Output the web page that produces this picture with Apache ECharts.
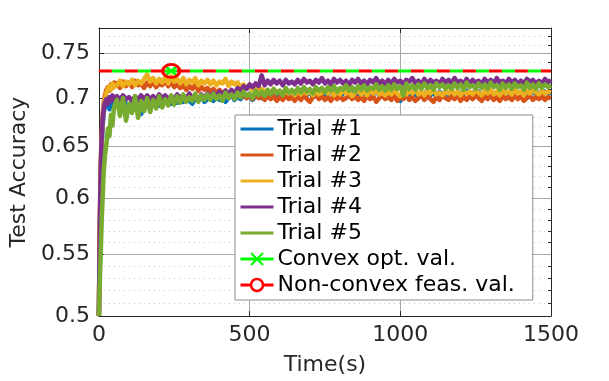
<!DOCTYPE html>
<html><head><meta charset="utf-8">
<script src="https://cdn.jsdelivr.net/npm/echarts@6/dist/echarts.min.js"></script>
<style>html,body{margin:0;padding:0;background:#fff}#c{width:609px;height:381px}</style>
</head><body><div id="c"></div>
<script>
const times = [0,2,4,6,8,10,13,16,20,25,30,35,40,45,50,
60,70,80,90,100,110,120,130,140,150,
160,170,180,190,200,210,220,230,240,250,
260,270,280,290,300,310,320,330,340,350,
360,370,380,390,400,410,420,430,440,450,
460,470,480,490,500,510,520,530,540,550,
560,570,580,590,600,610,620,630,640,650,
660,670,680,690,700,710,720,730,740,750,
760,770,780,790,800,810,820,830,840,850,
860,870,880,890,900,910,920,930,940,950,
960,970,980,990,1000,1010,1020,1030,1040,1050,
1060,1070,1080,1090,1100,1110,1120,1130,1140,1150,
1160,1170,1180,1190,1200,1210,1220,1230,1240,1250,
1260,1270,1280,1290,1300,1310,1320,1330,1340,1350,
1360,1370,1380,1390,1400,1410,1420,1430,1440,1450,
1460,1470,1480,1490,1500];

const trial1 = [0.5,0.545,0.585,0.615,0.64,0.655,0.672,0.684,0.692,0.70,0.694,0.688,0.697,0.691,0.699,
0.697,0.692,0.699,0.694,0.690,0.696,0.688,0.693,0.683,0.689,
0.694,0.699,0.693,0.697,0.692,0.698,0.695,0.700,0.694,0.697,
0.695,0.700,0.696,0.701,0.697,0.694,0.700,0.698,0.702,0.696,
0.699,0.703,0.697,0.701,0.698,0.702,0.696,0.700,0.703,0.698,
0.702,0.699,0.704,0.700,0.703,0.698,0.702,0.705,0.700,0.703,
0.701,0.705,0.702,0.706,0.700,0.704,0.702,0.706,0.703,0.699,
0.705,0.702,0.706,0.703,0.707,0.701,0.705,0.703,0.706,0.702,
0.704,0.707,0.703,0.706,0.701,0.705,0.708,0.703,0.706,0.702,
0.705,0.703,0.707,0.702,0.706,0.704,0.708,0.703,0.705,0.701,
0.706,0.703,0.707,0.704,0.697,0.705,0.708,0.703,0.706,0.704,
0.702,0.706,0.704,0.708,0.703,0.706,0.702,0.707,0.704,0.706,
0.703,0.707,0.705,0.702,0.706,0.704,0.708,0.703,0.706,0.704,
0.707,0.703,0.706,0.704,0.708,0.702,0.705,0.707,0.703,0.706,
0.704,0.707,0.702,0.706,0.704,0.708,0.703,0.705,0.707,0.704,
0.706,0.703,0.707,0.705,0.706];

const trial2 = [0.5,0.55,0.595,0.63,0.652,0.668,0.684,0.695,0.703,0.709,0.712,0.708,0.715,0.711,0.717,
0.716,0.711,0.718,0.713,0.717,0.712,0.719,0.714,0.716,0.711,
0.717,0.713,0.718,0.712,0.716,0.714,0.719,0.713,0.717,0.712,
0.715,0.711,0.714,0.709,0.713,0.710,0.714,0.708,0.712,0.709,
0.711,0.707,0.710,0.706,0.709,0.705,0.708,0.704,0.707,0.703,
0.705,0.701,0.704,0.700,0.703,0.699,0.704,0.700,0.702,0.698,
0.703,0.699,0.702,0.697,0.701,0.698,0.703,0.699,0.701,0.697,
0.702,0.698,0.703,0.699,0.696,0.701,0.704,0.699,0.702,0.698,
0.701,0.697,0.703,0.699,0.702,0.698,0.700,0.704,0.699,0.702,
0.698,0.701,0.697,0.703,0.699,0.702,0.696,0.700,0.703,0.699,
0.701,0.698,0.702,0.697,0.701,0.699,0.703,0.698,0.701,0.697,
0.700,0.703,0.698,0.702,0.699,0.696,0.701,0.698,0.703,0.700,
0.698,0.702,0.699,0.703,0.697,0.701,0.698,0.702,0.699,0.703,
0.700,0.697,0.702,0.699,0.703,0.698,0.701,0.697,0.702,0.699,
0.701,0.698,0.703,0.699,0.702,0.697,0.700,0.703,0.698,0.701,
0.699,0.702,0.698,0.701,0.700];

const trial3 = [0.5,0.548,0.59,0.622,0.645,0.662,0.678,0.69,0.699,0.706,0.71,0.713,0.709,0.716,0.712,
0.714,0.719,0.713,0.718,0.715,0.720,0.714,0.719,0.716,0.721,
0.726,0.718,0.722,0.716,0.721,0.717,0.723,0.716,0.724,0.718,
0.721,0.716,0.722,0.715,0.720,0.717,0.722,0.714,0.719,0.716,
0.720,0.715,0.719,0.714,0.718,0.716,0.721,0.713,0.718,0.715,
0.717,0.712,0.715,0.711,0.713,0.709,0.712,0.708,0.710,0.707,
0.709,0.705,0.710,0.706,0.708,0.704,0.709,0.705,0.707,0.703,
0.708,0.704,0.709,0.705,0.707,0.703,0.708,0.704,0.706,0.709,
0.705,0.708,0.703,0.707,0.704,0.709,0.705,0.707,0.702,0.706,
0.708,0.704,0.707,0.703,0.709,0.705,0.708,0.704,0.706,0.703,
0.707,0.704,0.709,0.705,0.702,0.707,0.704,0.708,0.705,0.709,
0.704,0.707,0.703,0.708,0.705,0.709,0.704,0.706,0.703,0.707,
0.705,0.709,0.704,0.707,0.703,0.708,0.705,0.707,0.704,0.708,
0.706,0.703,0.708,0.705,0.709,0.704,0.707,0.703,0.708,0.705,
0.707,0.704,0.709,0.705,0.707,0.703,0.708,0.705,0.709,0.706,
0.704,0.708,0.705,0.707,0.706];

const trial4 = [0.5,0.552,0.592,0.625,0.648,0.664,0.679,0.688,0.695,0.699,0.694,0.701,0.697,0.703,0.698,
0.702,0.698,0.703,0.699,0.701,0.697,0.702,0.698,0.703,0.699,
0.703,0.699,0.702,0.698,0.704,0.700,0.703,0.699,0.702,0.698,
0.704,0.700,0.703,0.699,0.705,0.700,0.703,0.698,0.704,0.700,
0.705,0.701,0.706,0.702,0.707,0.703,0.708,0.704,0.709,0.705,
0.711,0.708,0.713,0.710,0.715,0.712,0.716,0.713,0.725,0.714,
0.719,0.715,0.720,0.716,0.719,0.714,0.720,0.716,0.718,0.715,
0.720,0.716,0.721,0.717,0.719,0.715,0.720,0.717,0.722,0.716,
0.719,0.715,0.721,0.717,0.720,0.716,0.719,0.714,0.720,0.717,
0.721,0.716,0.719,0.715,0.720,0.717,0.722,0.716,0.719,0.715,
0.720,0.716,0.721,0.717,0.719,0.715,0.720,0.718,0.722,0.716,
0.719,0.715,0.721,0.716,0.720,0.717,0.719,0.715,0.721,0.717,
0.720,0.716,0.722,0.717,0.719,0.715,0.721,0.716,0.720,0.717,
0.719,0.715,0.721,0.717,0.720,0.716,0.722,0.717,0.719,0.716,
0.721,0.717,0.720,0.715,0.719,0.716,0.721,0.718,0.720,0.716,
0.719,0.716,0.721,0.717,0.720];

const trial5 = [0.5,0.518,0.535,0.55,0.568,0.585,0.603,0.625,0.64,0.652,0.668,0.66,0.682,0.671,0.69,
0.698,0.681,0.700,0.676,0.694,0.684,0.702,0.679,0.697,0.686,
0.700,0.685,0.698,0.689,0.702,0.690,0.699,0.692,0.703,0.693,
0.702,0.695,0.704,0.696,0.701,0.697,0.705,0.696,0.703,0.698,
0.704,0.698,0.705,0.699,0.703,0.697,0.706,0.700,0.704,0.699,
0.706,0.701,0.707,0.702,0.705,0.700,0.708,0.703,0.707,0.702,
0.709,0.704,0.710,0.705,0.708,0.703,0.711,0.706,0.709,0.705,
0.711,0.706,0.712,0.707,0.710,0.705,0.712,0.708,0.711,0.706,
0.712,0.708,0.713,0.707,0.711,0.709,0.714,0.708,0.712,0.707,
0.713,0.709,0.714,0.708,0.712,0.710,0.715,0.709,0.713,0.708,
0.714,0.709,0.715,0.710,0.713,0.703,0.716,0.710,0.714,0.709,
0.715,0.710,0.716,0.711,0.714,0.709,0.716,0.712,0.715,0.710,
0.714,0.710,0.716,0.711,0.715,0.709,0.717,0.712,0.714,0.710,
0.716,0.711,0.715,0.710,0.717,0.712,0.714,0.709,0.716,0.711,
0.715,0.710,0.716,0.712,0.714,0.709,0.717,0.711,0.715,0.710,
0.716,0.711,0.715,0.712,0.714];

const trialNames = ['Trial #1','Trial #2','Trial #3','Trial #4','Trial #5'];
const trialColors = ['#0072BD','#D95319','#EDB120','#7E2F8E','#77AC30'];
const trials = [trial1, trial2, trial3, trial4, trial5];

const convexName = 'Convex opt. val.';
const nonconvexName = 'Non-convex feas. val.';
const convexVal = 0.73;
const nonconvexVal = 0.73;
const markerTime = 240;

const yTicks = [0.5,0.55,0.6,0.65,0.7,0.75];
const yMinor = [0.51,0.52,0.53,0.54,0.56,0.57,0.58,0.59,0.61,0.62,0.63,0.64,0.66,0.67,0.68,0.69,0.71,0.72,0.73,0.74,0.76,0.77];
const xMin = 0, xMax = 1500, xStep = 500;
const yMin = 0.5, yMax = 0.78;

const FONT = 'DejaVu Sans';
const AX = '#262626';

const chart = echarts.init(document.getElementById('c'), null, {renderer:'canvas'});

const series = trials.map((arr, k) => ({
  name: trialNames[k], type: 'line', xAxisIndex: 0, yAxisIndex: 0,
  data: times.map((t, i) => [t, arr[i]]),
  symbol: 'none', showSymbol: false, sampling: null,
  lineStyle: {width: 4.5, color: trialColors[k], join: 'round'},
  itemStyle: {color: trialColors[k]},
  z: 3
}));

series.push({
  name: convexName, type: 'line', xAxisIndex: 0, yAxisIndex: 0,
  symbol: 'path://M0,0L10,10M10,0L0,10', symbolSize: [11, 9], showSymbol: true,
  data: [{value: [xMin, convexVal], symbol: 'none'}, {value: [markerTime, convexVal]}, {value: [xMax, convexVal], symbol: 'none'}],
  lineStyle: {width: 3, color: '#00ff00', type: [13, 13], dashOffset: 13},
  itemStyle: {color: '#00ff00', borderColor: '#00ff00', borderWidth: 2.5},
  z: 4
});
series.push({
  name: nonconvexName, type: 'line', xAxisIndex: 0, yAxisIndex: 0,
  symbol: 'circle', symbolSize: [17, 13], showSymbol: true,
  data: [{value: [xMin, nonconvexVal], symbol: 'none'}, {value: [markerTime, nonconvexVal]}, {value: [xMax, nonconvexVal], symbol: 'none'}],
  lineStyle: {width: 3, color: '#ff0000', type: [13, 13], dashOffset: 0},
  itemStyle: {color: 'rgba(255,255,255,0)', borderColor: '#ff0000', borderWidth: 3},
  z: 5
});

const legendData = trialNames.map(n => ({name: n, itemStyle: {color: 'rgba(0,0,0,0)', borderWidth: 0, opacity: 0}, lineStyle: {width: 3, type: 'solid'}}));
legendData.push({name: convexName, lineStyle: {width: 3, type: 'solid', color: '#00ff00'}});
legendData.push({name: nonconvexName, lineStyle: {width: 3, type: 'solid', color: '#ff0000'}, itemStyle: {color: '#ffffff', borderColor: '#ff0000', borderWidth: 2.5}});

const fmt = v => String(+(+v).toFixed(2));

chart.setOption({
  animation: false,
  backgroundColor: '#ffffff',
  textStyle: {fontFamily: FONT},
  grid: {left: 96, right: 58, top: 28, bottom: 63, containLabel: false},
  legend: {
    orient: 'vertical', left: 235, top: 115,
    data: legendData,
    itemWidth: 33, itemHeight: 15, itemGap: 4,
    padding: [3, 18, 4, 4],
    backgroundColor: '#ffffff', borderColor: '#8c8c8c', borderWidth: 1, borderRadius: 0,
    textStyle: {fontFamily: FONT, fontSize: 22, color: '#000', lineHeight: 22, padding: [0,0,0,-1]},
    selectedMode: false, z: 20
  },
  xAxis: [{
    type: 'value', position: 'bottom', min: xMin, max: xMax, interval: xStep,
    name: 'Time(s)', nameLocation: 'middle', nameGap: 38,
    nameTextStyle: {fontFamily: FONT, fontSize: 22, color: AX},
    axisLine: {show: true, onZero: false, lineStyle: {color: AX, width: 1}},
    axisTick: {show: true, inside: true, length: 5, lineStyle: {color: AX}},
    axisLabel: {fontFamily: FONT, fontSize: 22, color: AX, margin: 8, formatter: v => String(v)},
    splitLine: {show: true, lineStyle: {color: '#a8a8a8', width: 1}}
  }, {
    type: 'value', position: 'top', min: xMin, max: xMax, interval: xStep,
    axisLine: {show: true, onZero: false, lineStyle: {color: AX, width: 1}},
    axisTick: {show: true, inside: true, length: 5, lineStyle: {color: AX}},
    axisLabel: {show: false}, splitLine: {show: false}
  }],
  yAxis: [{
    type: 'log', logBase: 10, position: 'left', min: yMin, max: yMax,
    name: 'Test Accuracy', nameLocation: 'middle', nameGap: 62, nameRotate: 90,
    nameTextStyle: {fontFamily: FONT, fontSize: 22, color: AX},
    axisLine: {show: true, onZero: false, lineStyle: {color: AX, width: 1}},
    axisTick: {show: true, inside: true, length: 5, customValues: yTicks, lineStyle: {color: AX}},
    axisLabel: {fontFamily: FONT, fontSize: 22, color: AX, margin: 9, customValues: yTicks, formatter: fmt},
    splitLine: {show: true, lineStyle: {color: '#a8a8a8', width: 1}},
    minorTick: {show: false}, minorSplitLine: {show: false}
  }, {
    type: 'log', logBase: 10, position: 'right', min: yMin, max: yMax,
    axisLine: {show: true, onZero: false, lineStyle: {color: AX, width: 1}},
    axisTick: {show: true, inside: true, length: 3, customValues: yMinor, lineStyle: {color: AX}},
    axisLabel: {show: false},
    splitLine: {show: true, lineStyle: {color: '#c4c4c4', width: 1, type: [1, 4]}},
    minorTick: {show: false}, minorSplitLine: {show: false}
  }],
  series: series
});
</script>
</body></html>
